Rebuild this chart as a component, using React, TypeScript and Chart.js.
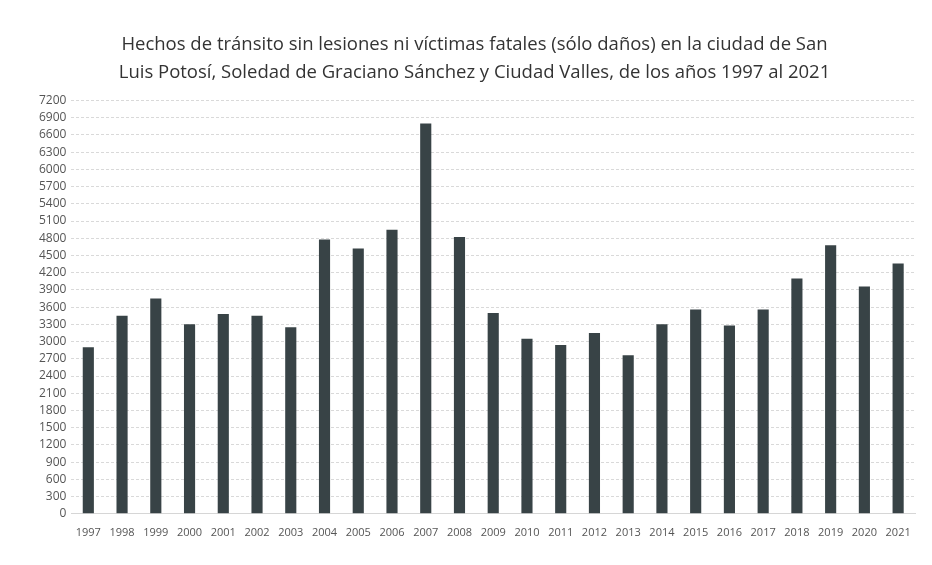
import React, { useEffect, useRef } from "react";
import { Chart, registerables } from "chart.js";

Chart.register(...registerables);

const years = [
  "1997", "1998", "1999", "2000", "2001", "2002", "2003", "2004", "2005",
  "2006", "2007", "2008", "2009", "2010", "2011", "2012", "2013", "2014",
  "2015", "2016", "2017", "2018", "2019", "2020", "2021",
];

const hechos = [
  2900, 3450, 3750, 3300, 3480, 3450, 3250, 4780, 4620,
  4950, 6800, 4820, 3500, 3050, 2940, 3150, 2760, 3300,
  3560, 3280, 3560, 4100, 4680, 3960, 4360,
];

const titleLines = [
  "Hechos de tránsito sin lesiones ni víctimas fatales (sólo daños) en la ciudad de San",
  "Luis Potosí, Soledad de Graciano Sánchez y Ciudad Valles, de los años 1997 al 2021",
];

const yMax = 7200;
const yStep = 300;

export default function App() {
  const ref = useRef<HTMLCanvasElement | null>(null);

  useEffect(() => {
    document.body.style.margin = "0";
    const canvas = ref.current;
    if (!canvas) return;
    const chart = new Chart(canvas, {
      type: "bar",
      data: {
        labels: years,
        datasets: [
          {
            data: hechos,
            backgroundColor: "#384346",
            borderWidth: 0,
            barPercentage: 0.33,
            categoryPercentage: 1,
          },
        ],
      },
      options: {
        animation: false,
        responsive: false,
        maintainAspectRatio: false,
        layout: { padding: { left: 34, right: 17, top: 10, bottom: 22 } },
        plugins: {
          legend: { display: false },
          tooltip: { enabled: false },
          title: {
            display: true,
            text: titleLines,
            color: "#333333",
            font: { family: "'Open Sans', sans-serif", size: 18.5, weight: "normal", lineHeight: 1.5 },
            padding: { top: 21, bottom: 14 },
          },
        },
        scales: {
          x: {
            grid: { display: false },
            border: { display: true, color: "#d6d6d6" },
            ticks: {
              color: "#555555",
              font: { family: "'Open Sans', sans-serif", size: 11 },
              maxRotation: 0,
              autoSkip: false,
              padding: 4,
            },
          },
          y: {
            min: 0,
            max: yMax,
            grid: { color: "#d9d9d9", lineWidth: 1, drawTicks: false },
            border: { display: false, dash: [3, 2] },
            ticks: {
              stepSize: yStep,
              autoSkip: false,
              color: "#555555",
              font: { family: "'Open Sans', sans-serif", size: 12 },
              padding: 5,
              callback: (v: any) => String(v),
            },
          },
        },
      },
    });
    return () => chart.destroy();
  }, []);

  return (
    <div style={{ width: 932, height: 565 }}>
      <canvas ref={ref} width={932} height={565} style={{ display: "block" }} />
    </div>
  );
}
